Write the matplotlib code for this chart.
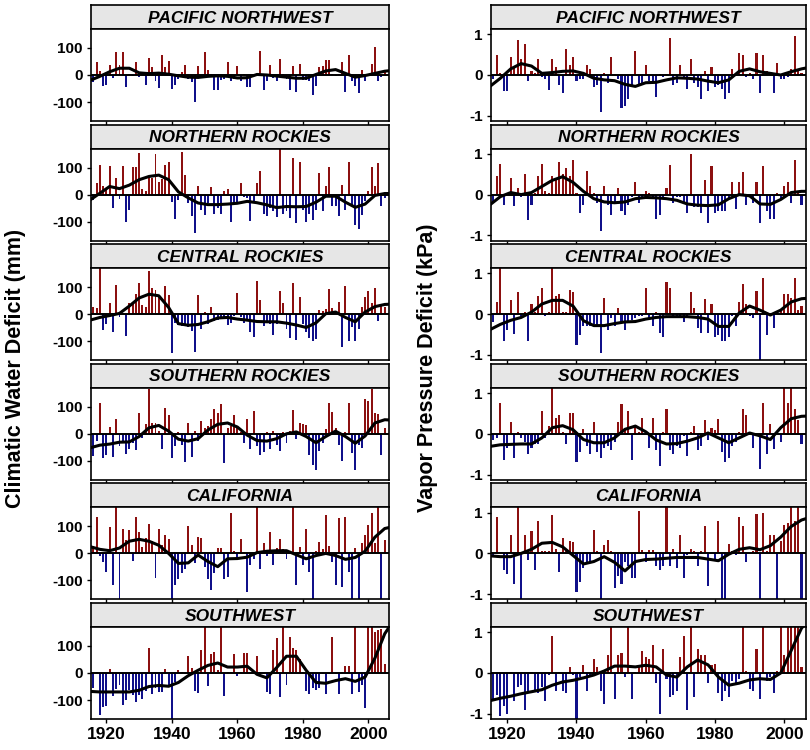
import numpy as np
import matplotlib
matplotlib.use("Agg")
import matplotlib.pyplot as plt

plt.rcParams["font.family"] = ["Liberation Sans", "DejaVu Sans"]
plt.rcParams["axes.unicode_minus"] = False

years = np.arange(1916, 2006)
regions = ["PACIFIC NORTHWEST", "NORTHERN ROCKIES", "CENTRAL ROCKIES",
           "SOUTHERN ROCKIES", "CALIFORNIA", "SOUTHWEST"]

# Climatic water deficit anomalies (mm), 1916-2005
cwd_pnw = [-25, 47, 16, -40, -36, 37, -11, 84, 38, 84, -43, 5, -5, 47, -7, 3, -37, 62, 28, -23, -48,
           75, 28, 50, -53, -36, -15, 12, 37, -15, -27, -99, 35, -12, 84, 20, 3, -56, -54, -17, -15,
           49, -22, -15, 35, -21, 5, -46, -46, 3, -5, 90, -54, -21, 36, -12, -23, 59, 4, -15, -54, 32,
           -64, 40, -17, -17, -23, -74, -40, 28, 35, 56, 56, 5, -5, 4, 49, -62, 75, -21, -40, -67,
           20, -21, 5, 41, 102, -21, -9, 10]
cwd_nr = [-20, 43, 111, 31, 25, 105, -49, 62, -16, 105, -102, -56, 102, 102, 152, 19, 12, 68, 62, 151, 46,
          58, 111, 120, -28, -90, -19, 157, 74, -31, -78, -142, 33, -56, -74, -31, 27, -72, -49, -70, 12,
          22, -101, -31, -35, 43, -8, -12, -99, -25, 43, 86, -72, -78, -49, -62, -83, 185, -72, -62, -86, 136,
          -105, 121, -56, -102, -72, -93, -56, 80, -62, 33, 101, -41, -41, -80, 37, -56, 120, -41, -114, -126,
          -74, -25, 12, 102, 31, 115, -41, -12]
cwd_cr = [28, 22, 185, -59, -35, 41, -64, 107, -12, 3, -80, 41, 43, 74, 117, 33, 27, 160, 96, 90,
          68, 6, 105, 70, -142, -31, -40, -43, -37, -49, -62, -140, 72, -56, 9, -37, 27, -25, -22, -19,
          -12, -40, -31, -5, 80, -10, -31, -19, -64, -86, 121, 53, -43, -25, -37, -77, -37, 86, 43, -56, -89,
          117, -96, 62, -37, -64, -89, -99, -93, 15, 10, 19, 93, 22, 12, 46, -123, 105, -99, -49, -99,
          -56, 25, 64, 84, 40, 96, -25, 37, 25]
cwd_sr = [-83, -27, 112, -89, -80, 26, -85, 56, -46, -33, -73, -58, -33, -60, 78, -15, 37, 167, 41, 41,
          10, -56, 96, 68, -89, -46, 6, -40, -105, 41, -85, 12, -27, 47, 22, 28, 53, 93, 78, 109,
          -107, 22, 28, 68, 28, 5, -33, 56, -56, 84, -46, -77, -68, 6, -58, 10, -40, -62, 6, -33, 10,
          88, -21, 41, 35, 31, -77, -114, -132, -64, -33, 16, 112, 80, 22, -40, -101, 7, 115, -70, -132,
          -40, -52, 130, 121, 167, 78, 72, -77, 22]
cwd_ca = [27, 133, -10, -31, -68, 96, -117, 185, -185, 89, 49, 86, -28, 133, 78, 22, 56, 109, 47, -90, 89,
          31, 68, 52, -185, -117, -93, -74, -56, 101, 31, -37, 59, 56, -49, -93, -136, -74, 19, 19, -93,
          -86, 148, 10, -19, 52, 5, -142, -43, -19, 185, -56, 37, -10, 80, -43, 19, 52, 15, -19, 10, 185,
          -117, 25, -43, 89, -68, -185, 10, 43, 15, 142, 27, -31, -117, 130, -123, 136, -68, -185, 19, -185,
          37, 68, 105, 151, 40, 185, -185, 49]
cwd_sw = [-56, 4, -154, -126, -122, 16, -85, -58, -43, -117, -101, -64, -80, -107, -83, -95, -68, 93, -77, -56,
          -70, -70, 16, -52, -185, -33, 12, 3, -5, 62, 19, -68, -73, 86, 185, -48, 72, 78, 12, 185,
          -85, 3, 3, 72, -11, 4, 75, 74, 3, 3, 62, 3, -3, -70, -77, 86, 130, -89, 185, -46, 133,
          93, 86, 53, 3, -68, -77, -56, -64, -56, -3, -77, -3, 133, -3, -77, 3, 25, 25, -77, 185,
          -70, -43, -130, 185, 185, 152, 158, 164, 35]

# Vapor pressure deficit anomalies (kPa), 1916-2005
vpd_pnw = [-0.1, 0.5, 0.05, -0.4, -0.4, 0.45, 0.2, 0.85, 0.4, 0.75, -0.15, 0.1, 0.05, 0.4, -0.05,
           -0.1, -0.37, 0.4, 0.2, -0.25, -0.45, 0.65, 0.25, 0.45, -0.15, -0.1, -0.1, 0.25, 0.15, -0.3,
           -0.25, -0.92, 0.05, -0.2, 0.45, 0.02, -0.1, -0.8, -0.75, -0.6, -0.3, 0.6, -0.25, -0.2, 0.25,
           -0.15, -0.2, -0.55, 0.03, -0.05, 0.02, 0.9, -0.25, -0.2, 0.25, -0.1, -0.35, 0.4, -0.2, -0.3,
           -0.6, 0.1, -0.4, 0.2, -0.3, -0.25, -0.35, -0.6, -0.45, 0.15, 0.02, 0.55, 0.5, -0.05, 0.05,
           -0.1, 0.55, -0.45, 0.5, 0.1, 0.03, -0.45, 0.3, -0.1, -0.1, -0.05, 0.15, 0.95, 0.15, 0.05]
vpd_nr = [-0.2, 0.45, 0.75, -0.25, 0.05, 0.4, -0.28, 0.15, -0.05, 0.5, -0.62, -0.25, 0.05, 0.45, 0.75,
          0.1, 0.05, 0.45, 0.35, 0.8, 0.5, 0.65, 0.45, 0.85, 0.05, -0.45, -0.25, 0.57, 0.2, 0.05,
          -0.2, -0.9, 0.2, -0.25, -0.5, -0.2, 0.15, -0.4, -0.5, -0.25, -0.05, 0.3, -0.2, -0.1, 0.1,
          0.05, -0.05, -0.6, -0.5, -0.05, 0.15, 0.72, -0.2, -0.05, -0.05, -0.2, -0.45, 1.0, -0.3, -0.3,
          -0.45, 0.35, -0.7, 0.7, -0.45, -0.4, -0.4, -0.4, -0.1, 0.3, -0.35, 0.3, 0.55, -0.25, -0.05,
          -0.2, 0.3, -0.7, 0.7, -0.4, -0.6, -0.6, 0.05, -0.1, 0.2, 0.3, -0.2, 0.85, 0.05, -0.25]
vpd_cr = [-0.18, 0.3, 1.2, -0.65, -0.4, 0.35, -0.48, 0.55, -0.05, 0.05, -0.65, 0.25, 0.05, 0.45, 0.65,
          -0.05, 0.05, 1.2, 0.45, 0.5, 0.05, 0.05, 0.6, 0.55, -0.75, -0.5, -0.28, -0.3, -0.28, -0.25,
          -0.3, -0.95, 0.4, -0.38, -0.1, -0.3, 0.15, -0.2, -0.38, -0.2, -0.15, -0.1, -0.05, -0.05, 0.65,
          -0.1, -0.3, 0.05, -0.45, -0.55, 0.78, 0.65, -0.1, -0.05, -0.1, -0.2, -0.05, 0.55, 0.15, -0.35,
          -0.45, 0.37, -0.45, 0.25, -0.55, -0.5, -0.65, -0.65, -0.55, -0.05, -0.3, 0.3, 0.75, 0.25, -0.05,
          -0.1, 0.58, -1.2, 0.88, -0.5, -0.05, -0.35, 0.02, 0.1, 0.5, 0.5, 0.4, 0.9, 0.1, 0.2]
vpd_sr = [-0.15, -0.1, 0.75, -0.65, -0.35, 0.28, -0.6, 0.05, -0.1, -0.2, -0.5, -0.35, -0.25, -0.25, 0.55,
          -0.1, 0.2, 1.2, 0.4, 0.47, 0.05, -0.25, 0.5, 0.5, -0.7, -0.45, 0.12, -0.3, -0.5, 0.3,
          -0.45, -0.6, -0.35, -0.3, -0.4, -0.2, 0.28, 0.72, 0.1, 0.55, -0.65, 0.2, 0.05, 0.4, 0.05,
          -0.35, 0.4, -0.4, -0.8, 0.05, 0.6, -0.4, -0.5, -0.3, -0.35, -0.05, -0.55, 0.05, 0.2, -0.4,
          -0.3, 0.35, -0.15, 0.15, 0.1, 0.37, -0.45, -0.7, -0.6, -0.3, -0.2, 0.05, 0.62, 0.45, 0.05,
          -0.35, -0.05, -0.87, 0.75, -0.5, 0.25, -0.38, 0.05, -0.2, 1.2, 0.75, 1.2, 0.6, 0.35, -0.25]
vpd_ca = [-0.05, 0.9, 0.02, -0.4, -0.5, 0.45, -0.75, 1.2, -1.2, 0.45, -0.15, 0.55, -0.4, 0.8, 0.05,
          0.05, 0.05, 0.95, 0.1, -0.45, 0.37, 0.05, 0.3, 0.28, -0.95, -0.7, -0.35, -0.25, -0.2, 0.58,
          0.05, -1.2, 0.2, 0.33, 0.05, -0.85, -0.55, -0.75, -0.2, -0.3, -0.6, -0.6, 1.05, 0.08, -0.2,
          0.08, 0.08, -0.3, -0.4, -0.3, 1.2, -0.3, 0.12, -0.35, 0.45, -0.6, -0.05, 0.1, 0.05, -0.3,
          0.05, 0.68, -0.8, 0.02, -0.15, 0.8, -1.2, -1.2, 0.22, 0.05, -0.05, 0.9, 0.68, -0.2, 0.02,
          0.05, 0.98, -1.2, 1.0, 0.05, 0.45, 0.45, -1.2, 0.3, 0.7, 0.75, 1.2, 0.8, 1.2, -1.2]
vpd_sw = [-0.7, -0.55, -1.05, -0.8, -1.0, 0.03, -0.7, -0.35, -0.3, -0.9, -0.5, 0.03, -0.45, -0.5, -0.35,
          -0.7, -0.05, 0.9, -0.45, 0.02, -0.45, -0.5, 0.15, -0.05, -1.2, -0.1, 0.2, -0.45, -0.05, 0.35,
          0.15, -0.45, -0.75, 0.45, 1.2, -0.65, 0.45, 0.5, -0.1, 1.2, -0.65, 0.02, 0.2, 0.55, 0.4,
          0.35, 0.7, -0.25, -1.0, 0.6, -0.15, -0.6, -0.55, -0.45, 0.4, 0.92, -0.9, 1.2, -0.6, 0.6,
          0.45, 0.45, -0.25, 0.2, 0.22, -0.5, -0.7, -0.45, -0.6, -0.2, -0.25, -0.15, 1.2, 0.05, -0.4,
          -0.45, 0.58, -0.65, 1.2, -0.2, -0.1, -0.5, 0.05, 1.2, 0.45, 1.2, 1.2, 1.2, 1.2, 0.15]

# fitted curves, every 3 years from 1915 to 2008
curve_years = np.arange(1915, 2009, 3)
fit_cwd_pnw = [-20, -5, 12, 25, 25, 8, 5, 7, 3, -3, -8, -9, -5, -3, -5, -11,
               -10, 2, 0, -4, -8, -12, -12, 2, 15, 20, 6, -8, -2, 6, 14, 18]
fit_cwd_nr = [-20, 5, 30, 22, 35, 55, 67, 72, 55, 10, -12, -31, -37, -37, -35, -32,
              -25, -30, -38, -48, -44, -45, -44, -28, -6, -6, -28, -47, -35, -3, 4, 4]
fit_cwd_cr = [-22, -12, -5, 3, 30, 60, 74, 68, 25, -35, -41, -38, -28, -14, -12, -18,
              -22, -27, -28, -28, -33, -40, -49, -32, 2, 8, -12, -28, 8, 28, 36, 38]
fit_cwd_sr = [-52, -42, -38, -31, -30, -10, 22, 31, 10, -20, -27, -18, 14, 35, 40, 25,
              -5, -25, -27, -18, 0, 7, -10, -33, -10, 10, -10, -35, -8, 40, 52, 50]
fit_cwd_ca = [25, 15, 10, 20, 45, 52, 45, 30, 0, -37, -35, -6, -30, -49, -20, -19,
              -14, 3, 8, 10, 10, -5, -20, -8, 0, -8, -22, -15, 8, 60, 92, 100]
fit_cwd_sw = [-68, -70, -70, -70, -70, -64, -50, -46, -49, -35, -10, 10, 28, 37, 22, 22,
              25, -5, -18, 20, 62, 62, 10, -35, -38, -28, -21, -31, -15, 55, 145, 200]
fit_vpd_pnw = [-0.28, -0.08, 0.15, 0.28, 0.22, 0.04, 0.06, 0.09, 0.1, 0.04, -0.08, -0.12, -0.14, -0.23, -0.28, -0.19,
               -0.18, -0.12, -0.07, -0.08, -0.1, -0.15, -0.19, -0.12, 0.09, 0.15, 0.08, 0.04, 0.0, 0.08, 0.15, 0.2]
fit_vpd_nr = [-0.25, -0.05, 0.05, 0.0, 0.05, 0.2, 0.35, 0.44, 0.3, 0.08, -0.1, -0.18, -0.2, -0.18, -0.1, -0.07,
              -0.08, -0.1, -0.14, -0.23, -0.26, -0.27, -0.25, -0.1, 0.0, -0.03, -0.23, -0.24, -0.12, 0.05, 0.08, 0.08]
fit_vpd_cr = [-0.38, -0.25, -0.15, -0.08, 0.05, 0.25, 0.34, 0.34, 0.2, -0.16, -0.28, -0.28, -0.23, -0.19, -0.18, -0.12,
              -0.08, -0.06, -0.06, -0.06, -0.08, -0.12, -0.3, -0.3, 0.03, 0.2, 0.1, -0.02, 0.1, 0.3, 0.38, 0.4]
fit_vpd_sr = [-0.31, -0.27, -0.26, -0.25, -0.25, -0.1, 0.15, 0.2, 0.1, -0.14, -0.22, -0.22, -0.1, 0.11, 0.19, 0.05,
              -0.15, -0.25, -0.24, -0.18, -0.1, 0.02, -0.1, -0.22, -0.1, 0.02, -0.05, -0.14, 0.15, 0.37, 0.43, 0.44]
fit_vpd_ca = [-0.06, -0.08, -0.08, 0.0, 0.1, 0.25, 0.27, 0.16, -0.05, -0.26, -0.2, -0.08, -0.22, -0.43, -0.2, -0.15,
              -0.14, -0.12, -0.1, -0.1, -0.1, -0.14, -0.18, -0.02, 0.1, 0.14, 0.09, 0.19, 0.4, 0.66, 0.82, 0.9]
fit_vpd_sw = [-0.68, -0.62, -0.57, -0.51, -0.46, -0.41, -0.3, -0.22, -0.18, -0.12, -0.05, 0.05, 0.17, 0.17, 0.15, 0.19,
              0.15, -0.05, -0.1, 0.15, 0.32, 0.2, -0.1, -0.3, -0.25, -0.17, -0.14, -0.16, 0.0, 0.55, 1.1, 1.4]

cwd_all = [cwd_pnw, cwd_nr, cwd_cr, cwd_sr, cwd_ca, cwd_sw]
vpd_all = [vpd_pnw, vpd_nr, vpd_cr, vpd_sr, vpd_ca, vpd_sw]
cwd_fits = [fit_cwd_pnw, fit_cwd_nr, fit_cwd_cr, fit_cwd_sr, fit_cwd_ca, fit_cwd_sw]
vpd_fits = [fit_vpd_pnw, fit_vpd_nr, fit_vpd_cr, fit_vpd_sr, fit_vpd_ca, fit_vpd_sw]

RED = "#8c1010"
BLUE = "#10108a"
W, H = 810, 750
XLIM = (1915.3, 2006.3)


def rect(x0, x1, ytop, ybot):
    return [x0 / W, 1 - ybot / H, (x1 - x0) / W, (ybot - ytop) / H]


fig = plt.figure(figsize=(8.1, 7.5), dpi=100)

cols = [(91, 389, cwd_all, cwd_fits, 170, [-100, 0, 100]),
        (491, 806, vpd_all, vpd_fits, 1.13, [-1, 0, 1])]

for x0, x1, series, fits, lim, yt in cols:
    for i, vals in enumerate(series):
        top = 5 + 119.6 * i
        # strip with the region name
        sax = fig.add_axes(rect(x0, x1, top, top + 24))
        sax.set_facecolor("#e6e6e6")
        sax.set_xticks([])
        sax.set_yticks([])
        for s in sax.spines.values():
            s.set_linewidth(1.2)
        sax.text(0.5, 0.45, regions[i], ha="center", va="center", fontsize=12.5,
                 fontweight="bold", fontstyle="italic", transform=sax.transAxes)

        ax = fig.add_axes(rect(x0, x1, top + 24, top + 116))
        v = np.asarray(vals, float)
        colors = np.where(v >= 0, RED, BLUE)
        ax.bar(years, v, width=0.6, color=colors, linewidth=0)
        ax.axhline(0, color="black", lw=1.4)
        ax.plot(curve_years, fits[i], color="black", lw=2.2, solid_joinstyle="round")
        ax.set_xlim(*XLIM)
        ax.set_ylim(-lim, lim)
        ax.set_yticks(yt)
        ax.set_yticklabels([str(t) for t in yt], fontsize=11, fontweight="bold")
        ax.set_xticks([1920, 1940, 1960, 1980, 2000])
        if i == 5:
            ax.set_xticklabels(["1920", "1940", "1960", "1980", "2000"],
                               fontsize=12.5, fontweight="bold")
        else:
            ax.set_xticklabels([])
        ax.tick_params(direction="out", length=3, width=1, pad=3)
        for s in ax.spines.values():
            s.set_linewidth(1.2)

fig.text(16 / W, 1 - 368 / H, "Climatic Water Deficit (mm)", rotation=90,
         ha="center", va="center", fontsize=15.5, fontweight="bold")
fig.text(428 / W, 1 - 368 / H, "Vapor Pressure Deficit (kPa)", rotation=90,
         ha="center", va="center", fontsize=15.5, fontweight="bold")

fig.savefig("out.png", dpi=100)
